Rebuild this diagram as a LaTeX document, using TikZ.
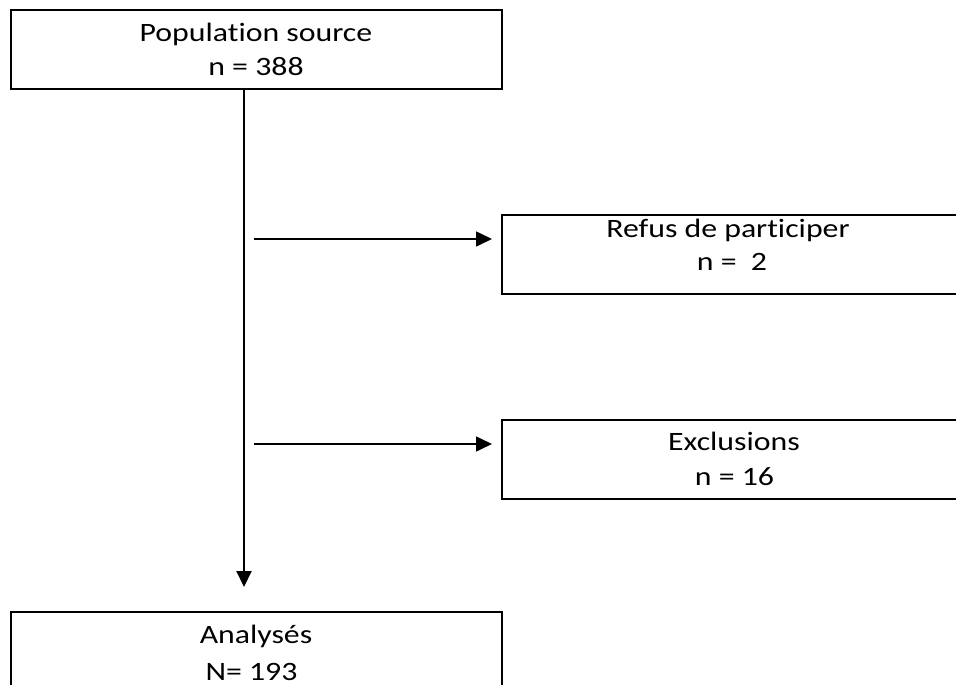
\documentclass[tikz,border=0pt]{standalone}
\usepackage{graphicx}
\usepackage{fontspec}
\setmainfont{Carlito}[Ligatures=NoCommon]
\usetikzlibrary{arrows.meta}
\newcommand{\widetxt}[1]{\scalebox{1.2}[1]{#1}}
\begin{document}
\begin{tikzpicture}[x=1pt,y=-1pt,
  box/.style={draw=black,line width=2pt,rectangle,inner sep=0pt},
  txt/.style={anchor=base,inner sep=0pt,font=\fontsize{26.5}{33}\selectfont},
  conn/.style={draw=black,line width=1.6pt,-{Triangle[length=16pt,width=15pt]}}]
\useasboundingbox (0,0) rectangle (956,685);
% boxes
\node[box,minimum width=491pt,minimum height=79pt] (pop) at (256.5,49.5) {};
\node[box,minimum width=464pt,minimum height=79pt] (ref) at (734,254.5) {};
\node[box,minimum width=464pt,minimum height=79pt] (exc) at (734,459.5) {};
\node[box,minimum width=491pt,minimum height=79pt] (ana) at (256.5,651.5) {};
% texts
\node[txt] (pop1) at (256,42) {\widetxt{Population source}};
\node[txt] (pop2) at (256,75) {\widetxt{n = 388}};
\node[txt] (ref1) at (728,237) {\widetxt{Refus de participer}};
\node[txt] (ref2) at (732,270) {\widetxt{n =\ \ 2}};
\node[txt] (exc1) at (734,450) {\widetxt{Exclusions}};
\node[txt] (exc2) at (734.5,485) {\widetxt{n = 16}};
\node[txt] (ana1) at (256,643) {\widetxt{Analysés}};
\node[txt] (ana2) at (251.5,680) {\widetxt{N= 193}};
% connectors
\coordinate (vtop) at (244,89);
\coordinate (h1) at (254,239);
\coordinate (h2) at (254,444);
\draw[conn,line width=2pt] (vtop) -- (vtop |- ana.north) [shorten >=24pt];
\draw[conn] (h1) -- (h1 -| ref.west) [shorten >=9pt];
\draw[conn] (h2) -- (h2 -| exc.west) [shorten >=9pt];
\end{tikzpicture}
\end{document}
